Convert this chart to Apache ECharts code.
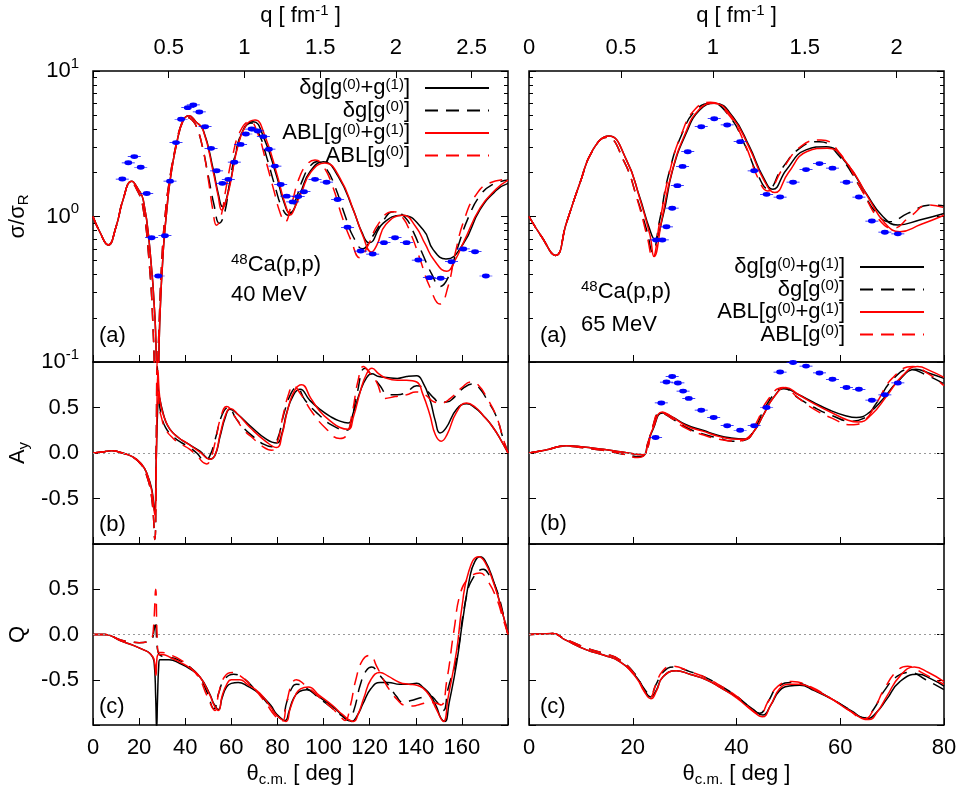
<!DOCTYPE html>
<html><head><meta charset="utf-8">
<script src="https://cdn.jsdelivr.net/npm/echarts@6/dist/echarts.min.js"></script>
<style>html,body{margin:0;padding:0;background:#fff}#c{width:960px;height:797px}</style>
</head><body><div id="c"></div>
<script>
// ---------------- DATA ----------------
// 40 MeV cross section sigma/sigma_R  [theta, value]
const cs40_dg1 = [[0,1.0],[3,0.78],[6.6,0.637],[10,0.85],[13,1.3],[16.8,1.75],[19.5,1.55],[21.8,1.3],[24.7,0.59],[26.9,0.2],[28,0.05],[29,0.2],[30.5,0.59],[32,1.1],[33.4,1.75],[36.3,3.19],[39.2,4.6],[41.6,4.93],[44.5,4.5],[47.8,3.93],[52.2,2.09],[54.3,1.44],[56.1,1.17],[59.4,1.69],[62.3,2.87],[65.9,4.14],[69.5,4.48],[73.9,3.54],[79.7,1.88],[82.5,1.3],[85.4,1.06],[89.8,1.44],[94.1,2.03],[99.9,2.38],[106.4,1.88],[112.9,1.11],[116.5,0.787],[119.8,0.66],[125.9,0.9],[133.9,1.02],[143.2,0.81],[147.6,0.59],[153.1,0.51],[160.6,0.65],[167.8,1.11],[175.1,1.52],[180,1.69]];
const cs40_dg0 = [[0,1.0],[3,0.78],[6.5,0.64],[10,0.85],[13,1.3],[16.5,1.72],[19.3,1.5],[21.5,1.2],[24.3,0.5],[26.2,0.15],[27.3,0.04],[28.5,0.15],[30,0.55],[31.5,1.1],[33,1.7],[36,3.1],[38.8,4.5],[40.8,4.8],[43,4.6],[45,4.1],[47.5,3.0],[50,1.9],[52.5,1.2],[54.8,0.9],[57,1.05],[59,1.6],[61.5,2.6],[65,3.9],[68.5,4.4],[72,3.7],[75.5,2.5],[79,1.6],[82,1.15],[84.7,1.02],[87.5,1.25],[91,1.8],[94,2.2],[97,2.38],[101,2.15],[105,1.6],[109,1.05],[113,0.72],[117,0.6],[121,0.72],[125.5,0.92],[130.5,1.08],[135,1.0],[139,0.78],[143,0.55],[147,0.4],[150.5,0.33],[154,0.38],[158,0.6],[163,1.0],[168,1.4],[173,1.65],[180,1.78]];
const cs40_abl1 = [[0,1.0],[3,0.78],[6.6,0.637],[10,0.85],[13,1.3],[16.8,1.75],[19.5,1.55],[21.8,1.3],[24.7,0.59],[26.9,0.2],[28,0.05],[29,0.2],[30.5,0.59],[32,1.1],[33.4,1.75],[36.3,3.19],[39.2,4.6],[41.6,4.93],[44.5,4.5],[47.8,3.9],[52.2,2.0],[54.3,1.38],[55.8,1.11],[57.5,1.25],[59.6,1.7],[62.5,2.9],[66.2,4.2],[70.3,4.6],[74.5,3.6],[80.2,1.85],[83,1.27],[85.8,1.03],[87.5,1.15],[90.3,1.45],[94.6,2.03],[100.6,2.33],[107,1.85],[113.5,1.05],[117,0.74],[120.8,0.57],[123,0.63],[127,0.88],[134.5,1.02],[140,0.85],[144,0.65],[148,0.5],[153.4,0.42],[157,0.5],[161,0.68],[168,1.15],[175,1.55],[180,1.78]];
const cs40_abl0 = [[0,1.0],[3,0.78],[6.5,0.64],[10,0.85],[13,1.3],[16.5,1.72],[19.3,1.5],[21.5,1.2],[24.3,0.5],[26.2,0.15],[27.3,0.04],[28.5,0.15],[30,0.55],[31.5,1.1],[33,1.7],[36,3.1],[38.8,4.5],[40.8,4.8],[43,4.6],[45,4.1],[47.5,3.0],[50,1.8],[52,1.1],[53.6,0.87],[55.5,1.0],[57.8,1.6],[60.5,2.6],[64,3.9],[68,4.5],[71.5,3.7],[75,2.4],[78.5,1.5],[81,1.08],[83.3,0.92],[86,1.2],[89.5,1.85],[93,2.3],[96.3,2.45],[100,2.2],[104,1.6],[108,1.0],[112,0.68],[115.8,0.52],[119,0.62],[124,0.9],[130,1.08],[134,1.0],[138,0.75],[142,0.5],[146,0.33],[150.5,0.25],[154,0.33],[157,0.55],[161,0.95],[166,1.4],[172,1.7],[180,1.8]];
const cs40_exp = [[12.7,1.81],[15.3,2.34],[17.9,2.58],[20.7,2.18],[23.3,1.44],[25.4,0.715],[28.3,0.39],[31.2,0.738],[33.4,1.75],[36.0,3.22],[38.2,4.66],[41.1,5.6],[43.5,5.84],[46.1,5.23],[48.6,4.14],[51.2,2.94],[53.6,2.06],[56.1,1.69],[58.7,1.8],[61.3,2.36],[64.0,3.13],[66.3,3.69],[68.8,3.99],[71.4,3.87],[73.9,3.54],[76.3,2.9],[78.9,2.22],[81.4,1.66],[84.0,1.38],[86.6,1.26],[89.0,1.37],[91.5,1.48],[96.3,1.8],[101.3,1.72],[106.1,1.31],[110.4,0.843],[116.1,0.579],[121.3,0.552],[126.2,0.661],[131.0,0.715],[136.0,0.661],[141.1,0.502],[145.9,0.38],[150.8,0.376],[155.5,0.489],[160.6,0.598],[165.7,0.573],[170.4,0.39]];

// 65 MeV cross section
const cs65_dg1 = [[0,1.0],[2.5,0.72],[5.1,0.54],[7.2,0.9],[9.8,1.69],[12.3,2.87],[15.4,3.57],[18.8,2.44],[21.3,1.37],[23.3,0.81],[24.2,0.7],[25.8,1.0],[27.7,2.09],[30.3,3.73],[32.9,5.4],[35.8,6.0],[39.3,4.85],[42.5,3.02],[45.1,1.88],[47,1.54],[49.6,2.09],[53.4,2.87],[57.3,3.02],[61.2,2.32],[65,1.44],[68.2,1.0],[71.1,0.875],[75.3,0.946],[80,1.05]];
const cs65_dg0 = [[0,1.0],[2.5,0.72],[5.1,0.54],[7.2,0.9],[9.8,1.69],[12.3,2.85],[15,3.5],[18.3,2.4],[20.8,1.35],[22.8,0.78],[23.8,0.57],[25.2,0.95],[27,2.0],[29.5,3.7],[32.2,5.4],[35.1,6.0],[38.6,4.9],[41.7,3.05],[44.2,1.9],[46.1,1.55],[48.8,2.15],[52.5,3.0],[56,3.27],[59.8,2.6],[63.8,1.6],[67,1.05],[69.5,0.92],[73,1.05],[77.5,1.2],[80,1.18]];
const cs65_abl1 = [[0,1.0],[2.5,0.72],[5.1,0.54],[7.2,0.9],[9.8,1.69],[12.3,2.87],[15.4,3.57],[18.8,2.44],[21.3,1.35],[23.3,0.75],[24.1,0.53],[25.6,0.95],[27.5,2.0],[30.1,3.7],[32.7,5.4],[35.5,6.0],[39.1,4.85],[42.4,3.0],[45.2,1.8],[47.4,1.46],[50,2.0],[53.6,2.8],[57.5,2.95],[61.4,2.3],[65.4,1.35],[68.6,0.9],[71.5,0.787],[75.5,0.88],[80,1.02]];
const cs65_abl0 = [[0,1.0],[2.5,0.72],[5.1,0.54],[7.2,0.9],[9.8,1.69],[12.3,2.85],[15,3.5],[18.3,2.4],[20.8,1.33],[22.8,0.72],[23.8,0.52],[25.2,0.92],[27,1.95],[29.4,3.7],[32.1,5.5],[35,6.1],[38.5,5.0],[41.7,3.1],[44.1,1.85],[46,1.5],[48.8,2.1],[52.5,3.05],[56.3,3.36],[60,2.7],[64,1.55],[67.5,0.95],[70.1,0.83],[73.5,1.0],[77,1.2],[80,1.15]];
const cs65_exp = [[24.5,0.69],[25.7,0.69],[26.5,0.85],[27.6,1.14],[28.6,1.63],[29.6,2.21],[30.6,2.79],[33.2,4.14],[35.7,4.7],[38.2,4.26],[40.7,3.27],[43.4,2.06],[45.8,1.42],[48.4,1.36],[50.9,1.72],[53.4,2.1],[56.0,2.31],[58.5,2.15],[61.2,1.72],[63.6,1.36],[66.1,0.93],[68.6,0.78],[71.1,0.76]];

// 40 MeV analyzing power A_y
const ay40_dg1 = [[0,0],[4,0.01],[8,0.026],[12,0.005],[17.5,-0.045],[21,-0.12],[23.3,-0.22],[25.5,-0.4],[26.7,-0.64],[27.4,-0.1],[28,0.45],[28.6,0.62],[29.8,0.5],[31.5,0.35],[33.4,0.26],[37,0.17],[40.6,0.11],[46.4,0.02],[50.7,-0.067],[53,-0.02],[55.1,0.18],[57.5,0.4],[59.4,0.48],[63,0.42],[68.1,0.3],[75.3,0.15],[79.7,0.11],[82,0.22],[84,0.44],[87,0.64],[89.8,0.7],[94,0.58],[98.4,0.48],[103,0.4],[107.1,0.35],[110.7,0.33],[113,0.45],[115.8,0.67],[118.5,0.82],[120.9,0.87],[124,0.84],[127.4,0.83],[132,0.82],[136,0.84],[140.4,0.85],[143,0.78],[146.1,0.59],[148.5,0.35],[150.5,0.22],[153,0.27],[157.7,0.48],[162.1,0.54],[166,0.49],[169.3,0.41],[173,0.3],[177,0.14],[180,0]];
const ay40_dg0 = [[0,0],[4,0.01],[8,0.026],[12,0.005],[17.5,-0.05],[21,-0.13],[23.3,-0.25],[25.5,-0.5],[26.8,-0.95],[27.4,0.0],[27.9,0.95],[28.5,0.6],[29.8,0.4],[31.5,0.28],[34.8,0.18],[38,0.12],[42,0.06],[45,0.0],[48.5,-0.08],[50.5,-0.04],[53,0.15],[56,0.42],[58.7,0.5],[62,0.38],[65.5,0.27],[69.5,0.18],[73,0.11],[77.5,0.07],[80,0.15],[83,0.45],[86,0.66],[88.3,0.72],[92,0.58],[98.4,0.41],[104,0.3],[110,0.25],[112,0.35],[114.5,0.65],[118,0.93],[121,0.85],[124.5,0.74],[128,0.64],[132,0.64],[136,0.67],[140.4,0.74],[144,0.7],[148,0.6],[150,0.56],[153.3,0.56],[157,0.62],[161,0.72],[164.9,0.76],[168,0.7],[171,0.58],[174.8,0.41],[178,0.15],[180,0]];
const ay40_abl1 = [[0,0],[4,0.01],[8,0.026],[12,0.005],[17.5,-0.045],[21,-0.12],[23.3,-0.22],[25.5,-0.42],[26.8,-0.68],[27.5,0.0],[28.2,0.9],[29,0.6],[30.5,0.42],[33.4,0.26],[37,0.17],[40.6,0.11],[46.4,0.01],[50.7,-0.07],[53,-0.02],[55.1,0.2],[57.5,0.42],[59.6,0.49],[63,0.42],[68.1,0.28],[75.3,0.12],[79.7,0.06],[82,0.2],[84.5,0.48],[87.5,0.69],[90.5,0.75],[94.5,0.6],[98.4,0.46],[103,0.35],[107.1,0.28],[110.7,0.26],[113,0.4],[116,0.68],[118.5,0.86],[121,0.93],[124,0.87],[127.4,0.82],[132,0.8],[136,0.8],[140.4,0.78],[143,0.65],[146.1,0.42],[148.5,0.2],[151,0.13],[153.5,0.2],[157.7,0.45],[162,0.55],[166,0.5],[169.3,0.41],[173,0.3],[177,0.14],[180,0]];
const ay40_abl0 = [[0,0],[4,0.01],[8,0.026],[12,0.005],[17.5,-0.05],[21,-0.13],[23.3,-0.25],[25.5,-0.5],[26.8,-0.95],[27.4,0.0],[27.9,1.0],[28.5,0.55],[29.8,0.38],[31.5,0.26],[34.8,0.16],[38,0.1],[42,0.04],[45,-0.03],[49.3,-0.12],[51,-0.06],[53,0.12],[55.5,0.4],[58,0.51],[61.5,0.4],[65.5,0.25],[69.5,0.16],[73,0.08],[77.5,0.03],[80,0.12],[82.5,0.42],[85,0.66],[86.8,0.74],[90,0.65],[95,0.45],[101,0.27],[107.1,0.16],[110,0.2],[112.5,0.45],[115,0.8],[117.3,0.95],[120,0.88],[123,0.78],[126.7,0.6],[131,0.62],[136,0.64],[140,0.67],[144,0.64],[148,0.56],[151,0.55],[155,0.6],[160,0.72],[164,0.78],[167,0.75],[171,0.6],[175,0.4],[178,0.15],[180,0]];

// 65 MeV analyzing power
const ay65_dg1 = [[0,0],[3,0.03],[7.2,0.08],[10,0.07],[14.3,0.04],[18,0.01],[22,-0.02],[22.9,0.11],[23.9,0.26],[25.7,0.44],[27.5,0.4],[30.3,0.31],[33.5,0.25],[36.7,0.19],[39,0.165],[41.6,0.155],[43.5,0.25],[45.1,0.41],[47,0.6],[49.3,0.71],[52,0.64],[54.7,0.56],[58,0.47],[61,0.41],[63.1,0.39],[65.5,0.44],[68.2,0.59],[71,0.78],[74.6,0.92],[77,0.88],[80,0.82]];
const ay65_dg0 = [[0,0],[3,0.03],[7.2,0.075],[10,0.06],[14.3,0.03],[18,-0.01],[21.4,-0.04],[22.5,0.0],[23.8,0.28],[25.4,0.44],[27.5,0.38],[30.3,0.28],[33.5,0.21],[36.7,0.16],[39.3,0.13],[41.5,0.14],[43.5,0.27],[45.5,0.5],[47.5,0.66],[49,0.71],[52,0.6],[55,0.5],[58.5,0.41],[62,0.35],[64.5,0.38],[67,0.55],[70,0.8],[73.4,0.92],[76.5,0.86],[80,0.76]];
const ay65_abl1 = [[0,0],[3,0.03],[7.2,0.08],[10,0.07],[14.3,0.04],[18,0.01],[22,-0.02],[22.9,0.11],[23.9,0.27],[25.7,0.45],[27.5,0.4],[30.3,0.3],[33.5,0.24],[36.7,0.18],[39,0.155],[41.6,0.15],[43.5,0.25],[45.3,0.43],[47.3,0.62],[49.5,0.72],[52,0.64],[55,0.54],[58.5,0.44],[61.5,0.36],[63.5,0.34],[66,0.42],[69,0.63],[72,0.85],[74.9,0.95],[77.5,0.9],[80,0.83]];
const ay65_abl0 = [[0,0],[3,0.03],[7.2,0.075],[10,0.06],[14.3,0.03],[18,-0.01],[21,-0.05],[22.5,0.0],[23.8,0.28],[25.3,0.45],[27.5,0.38],[30.3,0.27],[33.5,0.2],[36.7,0.15],[40,0.13],[42,0.16],[44,0.35],[46,0.58],[49,0.72],[52,0.6],[55,0.48],[58.5,0.38],[62,0.31],[64.5,0.35],[67,0.55],[70,0.82],[74,0.95],[77,0.87],[80,0.74]];
const ay65_exp = [[24.4,0.17],[25.5,0.55],[26.5,0.78],[27.6,0.84],[28.7,0.77],[29.7,0.68],[30.8,0.6],[33.2,0.47],[35.6,0.39],[38.2,0.3],[40.7,0.25],[43.4,0.3],[45.8,0.5],[48.4,0.89],[50.9,0.995],[53.4,0.955],[56.0,0.88],[58.5,0.81],[61.2,0.72],[63.6,0.7],[66.1,0.58],[68.6,0.64],[71.1,0.77]];

// 40 MeV spin rotation Q
const q40_dg1 = [[0,0],[5,0.0],[7.3,-0.01],[12,-0.07],[17.5,-0.12],[22,-0.17],[24.7,-0.21],[26.5,-0.3],[27.2,-0.7],[27.6,-1.05],[28,-0.7],[28.5,-0.35],[29,-0.28],[33,-0.28],[37.7,-0.32],[42,-0.38],[46.4,-0.47],[50.7,-0.66],[52.5,-0.77],[54.4,-0.83],[56,-0.7],[57.9,-0.58],[60,-0.54],[63,-0.53],[67,-0.57],[72.4,-0.66],[77,-0.78],[79.7,-0.88],[83.3,-0.95],[85,-0.85],[86.9,-0.71],[89.5,-0.63],[92.7,-0.61],[98,-0.69],[104.2,-0.8],[108,-0.89],[112.2,-0.96],[114.5,-0.9],[117.2,-0.76],[120.5,-0.6],[124.5,-0.53],[128,-0.53],[133.1,-0.55],[137,-0.55],[140.4,-0.54],[143,-0.58],[146.1,-0.66],[149,-0.8],[151,-0.93],[152.6,-0.96],[154.5,-0.75],[157.7,-0.32],[160.6,0.2],[163.5,0.64],[165.5,0.8],[167.8,0.86],[170,0.82],[173.6,0.6],[177,0.3],[180,0]];
const q40_dg0 = [[0,0],[5,0.0],[7.3,-0.01],[12,-0.06],[16,-0.08],[20,-0.09],[24,-0.08],[25.5,-0.06],[26.5,0.05],[27.1,0.15],[27.6,-0.05],[28.3,-0.2],[30,-0.24],[33,-0.25],[37,-0.28],[42,-0.36],[46,-0.46],[49.5,-0.64],[52.5,-0.82],[54.5,-0.65],[57,-0.5],[61,-0.44],[65,-0.48],[70,-0.6],[75,-0.74],[79,-0.87],[81.8,-0.93],[84,-0.75],[86.5,-0.58],[88.3,-0.55],[93,-0.6],[98,-0.7],[104,-0.82],[108,-0.9],[110.7,-0.95],[113,-0.85],[116,-0.55],[118.5,-0.4],[120.9,-0.36],[124,-0.44],[126,-0.5],[128.8,-0.58],[131.5,-0.68],[134.6,-0.75],[138,-0.73],[142,-0.7],[146.1,-0.68],[149,-0.74],[151.9,-0.84],[154,-0.6],[157.7,-0.26],[161.8,0.4],[165,0.63],[169.3,0.72],[172,0.65],[175,0.5],[178,0.22],[180,0]];
const q40_abl1 = [[0,0],[5,0.0],[7.3,-0.01],[12,-0.07],[17.5,-0.12],[22,-0.17],[24.7,-0.21],[26.5,-0.28],[27.3,-0.45],[27.8,-0.25],[28.5,-0.22],[30,-0.22],[34,-0.26],[38,-0.31],[42,-0.37],[46.4,-0.47],[50.7,-0.67],[52.5,-0.78],[54.4,-0.84],[56,-0.68],[58,-0.55],[60,-0.5],[63.6,-0.5],[67,-0.55],[72.4,-0.65],[77,-0.8],[80,-0.9],[83.7,-0.96],[85.5,-0.82],[88,-0.66],[90,-0.6],[93.4,-0.58],[98,-0.67],[104.2,-0.79],[108,-0.88],[113,-0.96],[115,-0.88],[117.5,-0.7],[120.5,-0.5],[124.5,-0.42],[128,-0.46],[133,-0.53],[137,-0.55],[140.4,-0.56],[143,-0.59],[146.1,-0.68],[149,-0.83],[152,-0.96],[154,-0.7],[157.7,-0.18],[160,0.3],[163,0.7],[167.3,0.86],[170,0.8],[173.6,0.58],[177,0.3],[180,0]];
const q40_abl0 = [[0,0],[5,0.0],[7.3,-0.01],[12,-0.06],[16,-0.08],[20,-0.09],[24,-0.08],[25.5,-0.05],[26.3,0.1],[27.2,0.5],[27.8,0.0],[28.5,-0.2],[30,-0.2],[34,-0.23],[38,-0.28],[42,-0.36],[46,-0.48],[49.5,-0.68],[52.9,-0.84],[54.5,-0.65],[57,-0.47],[60.5,-0.42],[64,-0.46],[70,-0.6],[75,-0.76],[79,-0.9],[82,-0.96],[84,-0.75],[86.2,-0.55],[88.2,-0.5],[92,-0.56],[98,-0.69],[104,-0.82],[107,-0.9],[109.3,-0.95],[111.5,-0.8],[114,-0.5],[117,-0.28],[120.2,-0.23],[123,-0.35],[126,-0.5],[128.8,-0.62],[132,-0.72],[135,-0.78],[138.9,-0.79],[142,-0.77],[146,-0.75],[149,-0.76],[151,-0.78],[153.5,-0.5],[156.6,0.05],[159.5,0.47],[163,0.62],[167.8,0.68],[171,0.6],[175,0.4],[178,0.16],[180,0]];

// 65 MeV spin rotation Q
const q65_dg1 = [[0,0],[2.5,0.005],[4.6,0.01],[7,-0.06],[11.1,-0.17],[14.5,-0.23],[17.5,-0.3],[20.7,-0.47],[22.3,-0.62],[23.4,-0.69],[24.5,-0.62],[25.8,-0.47],[28.4,-0.4],[31,-0.44],[34.2,-0.5],[37,-0.59],[40,-0.69],[43,-0.82],[45.1,-0.89],[46.6,-0.78],[48.3,-0.62],[50.2,-0.57],[52.2,-0.56],[55,-0.62],[58.6,-0.72],[62,-0.84],[65.3,-0.93],[67,-0.86],[68.9,-0.72],[71.5,-0.52],[75,-0.44],[77.5,-0.49],[80,-0.57]];
const q65_dg0 = [[0,0],[2.5,0.005],[4.6,0.01],[7,-0.05],[11.1,-0.15],[14.5,-0.21],[17.5,-0.28],[20.5,-0.44],[22.2,-0.6],[23.4,-0.66],[24.5,-0.55],[25.8,-0.42],[27.8,-0.36],[31,-0.41],[34.2,-0.48],[37,-0.57],[40,-0.68],[42.5,-0.8],[44.5,-0.87],[46,-0.75],[48,-0.58],[50.9,-0.53],[54,-0.58],[58,-0.7],[61.5,-0.82],[64.7,-0.92],[66.5,-0.82],[68.5,-0.62],[71,-0.46],[73.4,-0.42],[76.5,-0.5],[80,-0.61]];
const q65_abl1 = [[0,0],[2.5,0.005],[4.6,0.01],[7,-0.06],[11.1,-0.17],[14.5,-0.23],[17.5,-0.3],[20.7,-0.48],[22.3,-0.64],[23.5,-0.71],[24.6,-0.62],[25.8,-0.47],[28.4,-0.4],[31,-0.44],[34.2,-0.5],[37,-0.59],[40,-0.7],[43,-0.84],[45,-0.91],[46.6,-0.78],[48.3,-0.6],[50.2,-0.55],[52.2,-0.55],[55,-0.61],[58.6,-0.72],[62,-0.85],[65.5,-0.94],[67.2,-0.85],[69,-0.68],[71.5,-0.46],[74.3,-0.36],[77,-0.42],[80,-0.52]];
const q65_abl0 = [[0,0],[2.5,0.005],[4.6,0.01],[7,-0.05],[11.1,-0.15],[14.5,-0.21],[17.5,-0.28],[20.5,-0.45],[22.2,-0.62],[23.3,-0.7],[24.4,-0.56],[25.8,-0.4],[27.6,-0.35],[31,-0.41],[34.2,-0.48],[37,-0.57],[40,-0.68],[42.5,-0.81],[44.5,-0.88],[46,-0.75],[48,-0.57],[50.7,-0.52],[54,-0.57],[58,-0.7],[61.5,-0.83],[64.7,-0.93],[66.5,-0.82],[68.5,-0.6],[71,-0.4],[73,-0.35],[76,-0.43],[80,-0.55]];

// legend names, axis ranges
const seriesNames = ['δg[g(0)+g(1)]', 'δg[g(0)]', 'ABL[g(0)+g(1)]', 'ABL[g(0)]'];
const seriesRich = ['{n|δg[g}{s|(0)}{n|+g}{s|(1)}{n|]}', '{n|δg[g}{s|(0)}{n|]}', '{n|ABL[g}{s|(0)}{n|+g}{s|(1)}{n|]}', '{n|ABL[g}{s|(0)}{n|]}'];
const thetaMax40 = 180, thetaMax65 = 80, qMax40 = 2.74, qMax65 = 2.258;

// ---------------- CHART ----------------
const F = "'Liberation Sans', Arial, Helvetica, sans-serif";
const FS = 22;
const chart = echarts.init(document.getElementById('c'), null, {renderer: 'canvas'});

const G = [
  {left: 93, top: 71, width: 415, height: 291},
  {left: 93, top: 362, width: 415, height: 182},
  {left: 93, top: 544, width: 415, height: 181},
  {left: 529, top: 71, width: 415, height: 291},
  {left: 529, top: 362, width: 415, height: 182},
  {left: 529, top: 544, width: 415, height: 181}
].map(g => Object.assign(g, {show: true, borderColor: '#000', borderWidth: 1.5, backgroundColor: 'transparent', containLabel: false, outerBoundsMode: 'none'}));

const tick = {show: true, inside: true, length: 7, lineStyle: {color: '#000', width: 1}};
const noLine = {show: false, onZero: false};
const lab = (extra) => Object.assign({color: '#000', fontSize: FS, fontFamily: F}, extra || {});
const nameStyle = {color: '#000', fontSize: FS, fontFamily: F,
  rich: {t: {fontSize: FS, fontFamily: F, color: '#000', lineHeight: 26},
         sub: {fontSize: 15, fontFamily: F, color: '#000', verticalAlign: 'bottom', lineHeight: 15},
         sup: {fontSize: 15, fontFamily: F, color: '#000', verticalAlign: 'top', lineHeight: 15}}};

function thetaAxis(gi, max, showLab) {
  return {type: 'value', gridIndex: gi, min: 0, max: max, interval: 20, position: 'bottom',
    axisLine: noLine, axisTick: tick, splitLine: {show: false},
    axisLabel: lab({show: showLab, margin: 12, formatter: v => (v === 180 ? '' : String(v))}),
    name: showLab ? '{t|θ}{sub|c.m.}{t| [ deg ]}' : '', nameLocation: 'middle', nameGap: 36, nameTextStyle: nameStyle};
}
function qAxis(gi, max, showZero) {
  return {type: 'value', gridIndex: gi, min: 0, max: max, interval: 0.5, position: 'top',
    axisLine: noLine, axisTick: tick, splitLine: {show: false},
    axisLabel: lab({margin: 12, showMaxLabel: false,
      formatter: v => { if (Math.abs(v * 2 - Math.round(v * 2)) > 1e-6) return ''; if (v === 0 && !showZero) return ''; return String(v); }}),
    name: '{t|q [ fm}{sup|-1}{t| ]}', nameLocation: 'middle', nameGap: 42, nameTextStyle: nameStyle};
}
function logAxis(gi, pos, showLab, name) {
  return {type: 'log', logBase: 10, gridIndex: gi, min: 0.1, max: 10, position: pos,
    axisLine: noLine, axisTick: tick, splitLine: {show: false},
    minorTick: {show: true, splitNumber: 9, length: 4, lineStyle: {color: '#000', width: 1}}, minorSplitLine: {show: false},
    axisLabel: lab({show: showLab, margin: 14,
      formatter: v => '{b|10}{s|' + Math.round(Math.log10(v)) + '}',
      rich: {b: {fontSize: FS, fontFamily: F, color: '#000', lineHeight: 30}, s: {fontSize: 15, fontFamily: F, color: '#000', verticalAlign: 'top', lineHeight: 15}}}),
    name: name || '', nameLocation: 'middle', nameRotate: 90, nameGap: 62, nameTextStyle: nameStyle};
}
function linAxis(gi, pos, showLab, name) {
  return {type: 'value', gridIndex: gi, min: -1, max: 1, interval: 0.5, position: pos,
    axisLine: noLine, axisTick: tick, splitLine: {show: false},
    axisLabel: lab({show: showLab, margin: 14, formatter: v => (Math.abs(v) > 0.99 ? '' : v.toFixed(1))}),
    name: name || '', nameLocation: 'middle', nameRotate: 90, nameGap: 62, nameTextStyle: nameStyle};
}

const xAxis = [
  thetaAxis(0, thetaMax40, false), thetaAxis(1, thetaMax40, false), thetaAxis(2, thetaMax40, true), qAxis(0, qMax40, false),
  thetaAxis(3, thetaMax65, false), thetaAxis(4, thetaMax65, false), thetaAxis(5, thetaMax65, true), qAxis(3, qMax65, true)
];
const yAxis = [
  logAxis(0, 'left', true, '{t|σ/σ}{sub|R}'), logAxis(0, 'right', false),
  linAxis(1, 'left', true, '{t|A}{sub|y}'), linAxis(1, 'right', false),
  linAxis(2, 'left', true, '{t|Q}'), linAxis(2, 'right', false),
  logAxis(3, 'left', false), logAxis(3, 'right', false),
  linAxis(4, 'left', false), linAxis(4, 'right', false),
  linAxis(5, 'left', false), linAxis(5, 'right', false)
];

const styles = [
  {color: '#000000', type: 'solid'},
  {color: '#000000', type: [13, 8]},
  {color: '#ff0000', type: 'solid'},
  {color: '#ff0000', type: [13, 8]}
];
const zeroLine = {silent: true, symbol: ['none', 'none'], label: {show: false},
  lineStyle: {color: '#999', type: [2, 3], width: 1}, data: [{yAxis: 0}], animation: false};

const series = [];
function addPanel(curves, xi, yi, withZero) {
  curves.forEach((d, k) => {
    const s = {type: 'line', name: seriesNames[k], data: d, xAxisIndex: xi, yAxisIndex: yi,
      symbol: 'none', showSymbol: false, smooth: 0.5, clip: true,
      lineStyle: {color: styles[k].color, width: 1.5, type: styles[k].type},
      itemStyle: {color: styles[k].color}, animation: false, z: 2 + k * 0.1};
    if (withZero && k === 0) s.markLine = zeroLine;
    series.push(s);
  });
}
addPanel([cs40_dg1, cs40_dg0, cs40_abl1, cs40_abl0], 0, 0, false);
addPanel([ay40_dg1, ay40_dg0, ay40_abl1, ay40_abl0], 1, 2, true);
addPanel([q40_dg1, q40_dg0, q40_abl1, q40_abl0], 2, 4, true);
addPanel([cs65_dg1, cs65_dg0, cs65_abl1, cs65_abl0], 4, 6, false);
addPanel([ay65_dg1, ay65_dg0, ay65_abl1, ay65_abl0], 5, 8, true);
addPanel([q65_dg1, q65_dg0, q65_abl1, q65_abl0], 6, 10, true);

// filled dot with small horizontal error whiskers (non-overlapping sub-paths)
const expSymbol = 'path://M-6.5,-0.6L-4,-0.6L-4,0.6L-6.5,0.6Z M4,-0.6L6.5,-0.6L6.5,0.6L4,0.6Z M-4,0A4,4,0,1,1,4,0A4,4,0,1,1,-4,0Z';
function addExp(d, xi, yi) {
  series.push({type: 'scatter', name: 'exp', data: d, xAxisIndex: xi, yAxisIndex: yi,
    symbol: expSymbol, symbolSize: [13, 8], symbolKeepAspect: true,
    itemStyle: {color: '#0000ff', opacity: 1}, animation: false, z: 5, silent: true});
}
addExp(cs40_exp, 0, 0);
addExp(cs65_exp, 4, 6);
addExp(ay65_exp, 5, 8);

const legendText = {color: '#000', fontSize: FS, fontFamily: F, padding: [0, 10, 0, 0],
  rich: {n: {fontSize: FS, fontFamily: F, color: '#000', lineHeight: 22},
         s: {fontSize: 15, fontFamily: F, color: '#000', verticalAlign: 'top', lineHeight: 12}}};
function mkLegend(right, top) {
  return {data: seriesNames, orient: 'vertical', align: 'right', right: right, top: top,
    itemWidth: 64, itemHeight: 12, itemGap: 0.5, selectedMode: false, backgroundColor: 'transparent',
    itemStyle: {opacity: 0, borderWidth: 0},
    formatter: name => seriesRich[seriesNames.indexOf(name)], textStyle: legendText};
}

const txtRich = {n: {fontSize: FS, fontFamily: F, fill: '#000', lineHeight: 26},
                 s: {fontSize: 15, fontFamily: F, fill: '#000', verticalAlign: 'top', lineHeight: 15}};
function txt(left, top, text) {
  return {type: 'text', left: left, top: top, silent: true, z: 10,
    style: {text: text, rich: txtRich, fill: '#000', font: FS + 'px ' + F}};
}

chart.setOption({
  animation: false,
  backgroundColor: '#ffffff',
  grid: G, xAxis: xAxis, yAxis: yAxis, series: series,
  legend: [mkLegend(465, 72), mkLegend(30, 251)],
  graphic: [
    txt(231, 252, '{s|48}{n|Ca(p,p)}'), txt(231, 284, '{n|40 MeV}'),
    txt(581, 279, '{s|48}{n|Ca(p,p)}'), txt(581, 314, '{n|65 MeV}'),
    txt(99, 325, '{n|(a)}'), txt(99, 514, '{n|(b)}'), txt(99, 696, '{n|(c)}'),
    txt(540, 325, '{n|(a)}'), txt(540, 513, '{n|(b)}'), txt(540, 696, '{n|(c)}')
  ]
});
</script></body></html>
